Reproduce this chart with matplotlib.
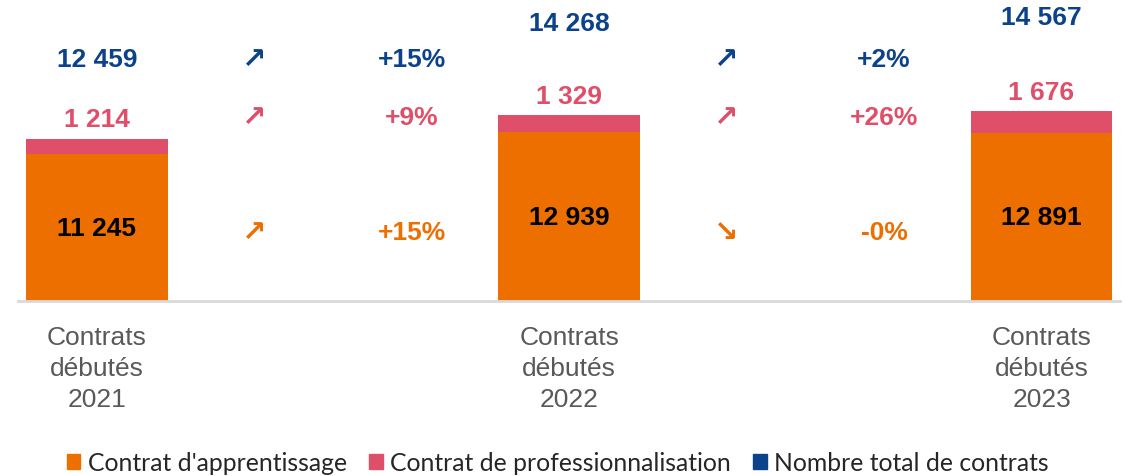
import matplotlib.pyplot as plt
import matplotlib.transforms as mtransforms
from matplotlib.patches import Patch

# Données
annees = ['2021', '2022', '2023']
apprentissage = [11245, 12939, 12891]
professionnalisation = [1214, 1329, 1676]
total = [12459, 14268, 14567]

# Evolutions entre deux années (total, pro, apprentissage)
evol_total = ['+15%', '+2%']
evol_pro = ['+9%', '+26%']
evol_app = ['+15%', '-0%']
fleche_total = ['↗', '↗']
fleche_pro = ['↗', '↗']
fleche_app = ['↗', '↘']

ORANGE = '#EC6F00'
ROSE = '#E04F69'
BLEU = '#0B428A'
GRIS = '#595959'


def fmt(v):
    return '{:,}'.format(v).replace(',', ' ')


fig = plt.figure(figsize=(11.27, 4.77), dpi=100)
ax = fig.add_axes([0.016, 0.367, 0.978, 0.633])

x_bars = [0, 3, 6]
ax.bar(x_bars, apprentissage, width=0.9, color=ORANGE)
ax.bar(x_bars, professionnalisation, width=0.9, bottom=apprentissage, color=ROSE)

ax.set_xlim(-0.5, 6.5)
ax.set_ylim(0, 23180)

for s in ['top', 'right', 'left']:
    ax.spines[s].set_visible(False)
ax.spines['bottom'].set_color('#D9D9D9')
ax.spines['bottom'].set_linewidth(2)
ax.set_yticks([])
ax.set_xticks(x_bars)
ax.set_xticklabels(['Contrats\ndébutés\n' + a for a in annees],
                   fontsize=19, color=GRIS, family='Liberation Sans',
                   linespacing=1.38)
ax.tick_params(axis='x', length=0, pad=17)

# étiquettes des barres
for xb, a, p in zip(x_bars, apprentissage, professionnalisation):
    ax.text(xb, a / 2, fmt(a), ha='center', va='center', fontsize=19,
            fontweight='bold', color='black', family='Liberation Sans')
    ax.annotate(fmt(p), (xb, a + p), xytext=(0, 14), textcoords='offset points',
                ha='center', va='center', fontsize=19, fontweight='bold',
                color=ROSE, family='Liberation Sans')

# total sur un axe secondaire invisible
ax2 = ax.twinx()
ax2.set_ylim(193, 15480)
ax2.axis('off')
ax2.plot(x_bars, total, linestyle='none', marker='none')
for xb, t in zip(x_bars, total):
    ax2.text(xb, t, fmt(t), ha='center', va='center', fontsize=19,
             fontweight='bold', color=BLEU, family='Liberation Sans')

# flèches et pourcentages d'évolution
trans = mtransforms.blended_transform_factory(ax.transData, ax.transAxes)
rangs = [(0.80, evol_total, fleche_total, BLEU),
         (0.608, evol_pro, fleche_pro, ROSE),
         (0.229, evol_app, fleche_app, ORANGE)]
for yr, pcts, fls, col in rangs:
    for i in range(2):
        xa = x_bars[i] + 1
        xp = x_bars[i] + 2
        ax.text(xa, yr, fls[i], transform=trans, ha='center', va='center',
                fontsize=21, fontweight='bold', color=col, family='DejaVu Sans')
        ax.text(xp, yr, pcts[i], transform=trans, ha='center', va='center',
                fontsize=19, fontweight='bold', color=col, family='Liberation Sans')

handles = [Patch(color=ORANGE, label="Contrat d'apprentissage"),
           Patch(color=ROSE, label='Contrat de professionnalisation'),
           Patch(color=BLEU, label='Nombre total de contrats')]
fig.legend(handles=handles, loc='center', bbox_to_anchor=(0.495, 0.028),
           ncol=3, frameon=False, prop={'family': 'Lato', 'size': 17.8},
           handlelength=0.55, handleheight=0.55, handletextpad=0.3,
           columnspacing=0.9, labelcolor='#262626')

fig.savefig('out.png', dpi=100)
